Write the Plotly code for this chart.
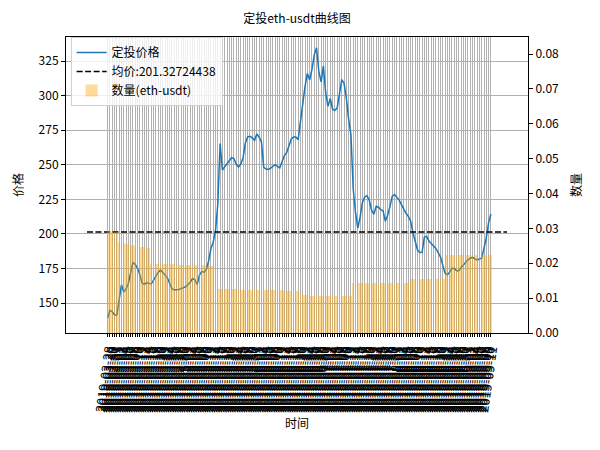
import pandas as pd
import plotly.graph_objects as go

# ---------------- data ----------------
price = [
    139.2, 144.7, 143.7, 141.3, 141.3, 153.3, 163.2, 158.0, 160.1, 164.1,
    172.4, 179.4, 177.8, 175.2, 170.6, 164.4, 163.5, 164.8, 164.2, 163.9,
    166.6, 169.5, 172.1, 173.8, 172.3, 170.3, 168.2, 164.5, 160.4, 159.4,
    159.4, 159.8, 160.4, 161.1, 161.7, 163.4, 165.0, 167.7, 166.8, 163.4,
    170.2, 172.9, 172.2, 174.3, 180.5, 189.3, 194.1, 202.4, 221.6, 265.3,
    246.2, 248.5, 250.8, 253.5, 255.1, 254.5, 250.4, 248.4, 250.5, 255.1,
    265.7, 270.1, 270.6, 269.4, 267.7, 272.2, 269.9, 266.6, 248.1, 246.9,
    246.6, 247.6, 248.6, 250.0, 248.8, 247.8, 252.4, 256.6, 258.7, 264.1,
    268.6, 270.0, 270.0, 268.1, 281.5, 295.6, 306.7, 316.0, 311.4, 318.8,
    329.3, 334.6, 317.7, 309.9, 321.4, 301.9, 292.3, 297.9, 290.2, 289.4,
    291.0, 301.3, 311.6, 308.9, 298.2, 282.9, 271.8, 232.3, 215.3, 204.2,
    212.1, 222.8, 226.6, 227.6, 224.3, 217.0, 214.2, 220.0, 219.3, 217.5,
    216.7, 209.1, 213.6, 219.7, 227.3, 228.5, 226.8, 224.4, 221.1, 217.8,
    214.9, 212.7, 209.3, 201.0, 194.5, 188.3, 186.5, 186.7, 197.7, 198.2,
    194.8, 192.7, 191.3, 189.5, 186.8, 183.4, 177.4, 171.6, 170.5, 172.2,
    174.9, 175.1, 173.4, 173.4, 175.7, 177.8, 179.5, 181.2, 182.4, 183.0,
    182.0, 181.2, 181.8, 182.5, 189.8, 197.5, 208.3, 214.4,
]

quantity = [
    0.0292, 0.0292, 0.0291, 0.0290, 0.0290,
    0.0262, 0.0260, 0.0258, 0.0256, 0.0254, 0.0252, 0.0251, 0.0250, 0.0249, 0.0248,
    0.0247, 0.0246, 0.0245, 0.0244,
    0.0199, 0.0199, 0.0199, 0.0198, 0.0198, 0.0198, 0.0198, 0.0197, 0.0197, 0.0197,
    0.0197, 0.0196, 0.0196, 0.0196, 0.0196, 0.0195, 0.0195, 0.0195, 0.0195, 0.0195,
    0.0194, 0.0194, 0.0194, 0.0194, 0.0194, 0.0193, 0.0193, 0.0193, 0.0193,
    0.0126, 0.0126, 0.0126, 0.0126, 0.0125, 0.0125, 0.0125, 0.0125, 0.0125, 0.0125,
    0.0124, 0.0124, 0.0124, 0.0124, 0.0124, 0.0124, 0.0123, 0.0123, 0.0123, 0.0123,
    0.0123, 0.0123, 0.0122, 0.0122, 0.0122, 0.0122, 0.0122, 0.0122, 0.0122, 0.0121,
    0.0121, 0.0121, 0.0121, 0.0121, 0.0121, 0.0121, 0.0121,
    0.0108, 0.0108, 0.0108, 0.0107, 0.0107, 0.0107, 0.0107, 0.0107, 0.0106, 0.0106,
    0.0106, 0.0106, 0.0106, 0.0106, 0.0105, 0.0105, 0.0105, 0.0105, 0.0105, 0.0105,
    0.0105, 0.0105,
    0.0142, 0.0142, 0.0142, 0.0142, 0.0142, 0.0142, 0.0142, 0.0142, 0.0142, 0.0142,
    0.0142, 0.0142, 0.0142, 0.0142, 0.0142, 0.0142, 0.0142, 0.0142, 0.0142, 0.0142,
    0.0142, 0.0142, 0.0142, 0.0142, 0.0142,
    0.0155, 0.0155, 0.0155, 0.0155, 0.0155, 0.0155, 0.0155, 0.0155, 0.0155, 0.0155,
    0.0155, 0.0155, 0.0155, 0.0155, 0.0155, 0.0155,
    0.0224, 0.0224, 0.0224, 0.0224, 0.0224, 0.0224, 0.0224, 0.0224, 0.0224, 0.0224,
    0.0224, 0.0224, 0.0224, 0.0224, 0.0224, 0.0224, 0.0224, 0.0224, 0.0224, 0.0224,
]

avg_price = 201.32724438
dates = [d.strftime("%Y-%m-%d") for d in pd.date_range("2019-03-28", periods=len(price))]

title_text = "定投eth-usdt曲线图"
line_name = "定投价格"
avg_name = "均价:201.32724438"
bar_name = "数量(eth-usdt)"
x_title = "时间"
y_title = "价格"
y2_title = "数量"
left_tick_vals = [150, 175, 200, 225, 250, 275, 300, 325]
right_tick_vals = [0.00, 0.01, 0.02, 0.03, 0.04, 0.05, 0.06, 0.07, 0.08]

# ---------------- figure ----------------
N = len(price)
idx = list(range(N))
# average line extends a few slots beyond the data, x-limits with 5% margins (matplotlib style)
avg_lo, avg_hi = -9, N - 1 + 7
span = avg_hi - avg_lo
x_range = [avg_lo - 0.05 * span, avg_hi + 0.05 * span]

FONT = "Noto Sans CJK SC, DejaVu Sans, sans-serif"

fig = go.Figure()
fig.add_trace(go.Scatter(x=idx, y=price, mode="lines", name=line_name,
                         line=dict(color="#1f77b4", width=1.5), yaxis="y"))
fig.add_trace(go.Scatter(x=[avg_lo, avg_hi], y=[avg_price, avg_price], mode="lines",
                         name=avg_name,
                         line=dict(color="black", width=1.5, dash="6px,2.5px"),
                         yaxis="y"))
fig.add_trace(go.Bar(x=idx, y=quantity, name=bar_name, width=0.8,
                     marker=dict(color="rgba(255,165,0,0.4)", line=dict(width=0)),
                     yaxis="y2"))

fig.update_layout(
    width=600, height=450,
    margin=dict(l=66, r=72, t=37, b=117),
    paper_bgcolor="white", plot_bgcolor="white",
    font=dict(family=FONT, size=12, color="black"),
    title=dict(text=title_text, x=0.495, xanchor="center", y=1 - 19 / 450,
               yanchor="middle", font=dict(size=12, color="black")),
    showlegend=True,
    legend=dict(x=0.01, y=1.0, xanchor="left", yanchor="top",
                bgcolor="rgba(255,255,255,0.8)", bordercolor="#d0d0d0", borderwidth=1,
                font=dict(size=12), tracegroupgap=0, itemwidth=30),
    bargap=0,
    xaxis=dict(
        range=x_range,
        tickmode="array", tickvals=idx, ticktext=dates, tickangle=-82,
        tickfont=dict(size=13, family=FONT),
        ticks="outside", ticklen=3, tickcolor="black", tickwidth=0.8,
        showgrid=True, gridcolor="#b0b0b0", gridwidth=0.8,
        showline=True, linecolor="black", linewidth=1, mirror=True,
        zeroline=False,
        title=dict(text=x_title, font=dict(size=12), standoff=6),
        automargin=False,
    ),
    yaxis=dict(
        range=[128.3, 342.4],
        tickmode="array", tickvals=left_tick_vals,
        ticks="outside", ticklen=4, tickcolor="black",
        showgrid=True, gridcolor="#b0b0b0", gridwidth=0.8,
        showline=True, linecolor="black", linewidth=1, mirror=True,
        zeroline=False,
        title=dict(text=y_title, font=dict(size=12), standoff=12),
        automargin=False,
    ),
    yaxis2=dict(
        range=[0, 0.0849],
        overlaying="y", side="right",
        tickmode="array", tickvals=right_tick_vals, tickformat=".2f",
        ticks="outside", ticklen=4, tickcolor="black",
        showgrid=False, showline=True, linecolor="black", linewidth=1,
        zeroline=False,
        title=dict(text=y2_title, font=dict(size=12), standoff=14),
        automargin=False,
    ),
)

fig.write_html("out.html", config={"displayModeBar": False},
               post_script="document.body.style.margin='0';")
